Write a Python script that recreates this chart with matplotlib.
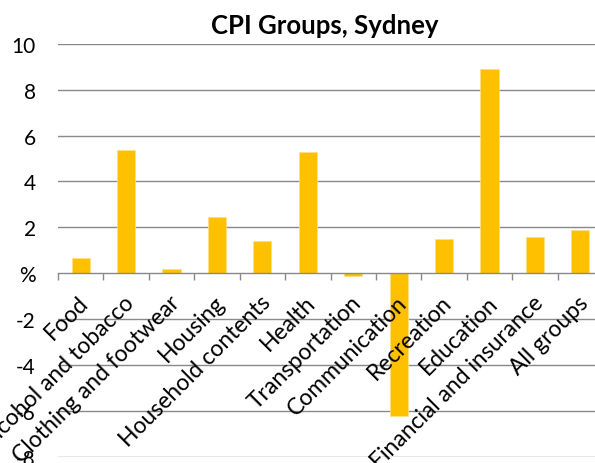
import matplotlib
matplotlib.use("Agg")
import matplotlib.pyplot as plt
from matplotlib.transforms import offset_copy

# ------- Dane -------
categories = ["Food", "Alcohol and tobacco", "Clothing and footwear", "Housing",
              "Household contents", "Health", "Transportation", "Communication",
              "Recreation", "Education", "Financial and insurance", "All groups"]
values = [0.65, 5.35, 0.2, 2.45, 1.4, 5.3, -0.1, -6.2, 1.5, 8.9, 1.6, 1.9]
y_ticks = [-8, -6, -4, -2, 0, 2, 4, 6, 8, 10]
y_tick_labels = ["-8", "-6", "-4", "-2", "%", "2", "4", "6", "8", "10"]

plt.rcParams['font.family'] = ['Lato', 'DejaVu Sans']

W, H = 595, 464
fig = plt.figure(figsize=(W / 100, H / 100), dpi=100)
ax = fig.add_axes([58 / W, 1 - 458 / H, 545 / W, (458 - 44.7) / H])

grid_col = '#898989'
x = list(range(len(categories)))
ax.bar(x, values, width=0.4, color='#FFC000', edgecolor='#FFE08A', linewidth=0.5, zorder=3)

ax.set_xlim(-0.5, len(categories) - 0.5)
ax.set_ylim(-8, 10)
ax.set_yticks(y_ticks)
ax.set_yticklabels(y_tick_labels, fontsize=15, color='#000000')
ax.tick_params(axis='y', length=0, pad=16)
for t in y_ticks:
    if t != 0:
        ax.axhline(t, color=grid_col, linewidth=1.0, zorder=1)

# os X w zerze, kreski na granicach kategorii
for s in ['left', 'right', 'top']:
    ax.spines[s].set_visible(False)
ax.spines['bottom'].set_position(('data', 0))
ax.spines['bottom'].set_color(grid_col)
ax.spines['bottom'].set_linewidth(1.0)
ax.spines['bottom'].set_zorder(4)
ax.set_xticks([i - 0.5 for i in range(len(categories) + 1)])
ax.set_xticklabels([])
ax.tick_params(axis='x', direction='out', length=5, width=1.0, color=grid_col)

# etykiety kategorii obrocone o 45 stopni
lab_tr = offset_copy(ax.transData, fig=fig, x=-2, y=-13, units='points')
for i, name in enumerate(categories):
    ax.text(i, 0, name, transform=lab_tr, rotation=45, rotation_mode='anchor',
            ha='right', va='top', fontsize=16.5, color='#000000', zorder=5)

fig.text(325 / W, 1 - 26 / H, "CPI Groups, Sydney", ha='center', va='center',
         fontsize=18.5, fontweight='bold', color='#000000')

fig.savefig("out.png", dpi=100)
